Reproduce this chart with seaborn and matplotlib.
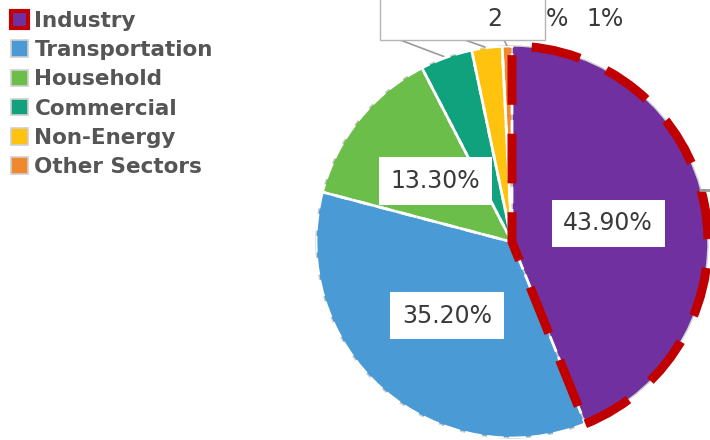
import matplotlib
matplotlib.use("Agg")
import matplotlib.pyplot as plt
from matplotlib.patches import Patch, Rectangle, Wedge
import seaborn as sns
import numpy as np

categories = ["Industry", "Transportation", "Household", "Commercial", "Non-Energy", "Other Sectors"]
values = [43.9, 35.2, 13.3, 4.3, 2.5, 0.8]
pct_labels = ["43.90%", "35.20%", "13.30%", "", "", ""]
colors = ["#7030A0", "#4A9AD6", "#6CBE4A", "#0FA27C", "#FFC20E", "#F0892E"]

sns.set_theme(style="white")
plt.rcParams["font.family"] = ["DejaVu Sans"]
lab_color = "#3a3a3a"

fig = plt.figure(figsize=(7.1, 4.4), dpi=100)
ax = fig.add_axes([316 / 710, 2 / 440, 392 / 710, 392 / 440])
wedges, _ = ax.pie(values, colors=colors, startangle=90, counterclock=False,
                   radius=1.0,
                   wedgeprops=dict(edgecolor="#d0d0d0", linewidth=1.0))
for i, w in enumerate(wedges):
    if i == 0:
        continue
    ax.add_patch(Wedge(w.center, w.r, w.theta1, w.theta2,
                       facecolor="none", edgecolor="white", linewidth=2.0,
                       linestyle=(0, (6, 2)), zorder=3))
w0 = wedges[0]
ax.add_patch(Wedge(w0.center, w0.r, w0.theta1, w0.theta2,
                   facecolor="none", edgecolor="#C00000", linewidth=6.5,
                   linestyle=(0, (5.5, 3.2)), zorder=4, clip_on=False))
ax.set_xlim(-1, 1)
ax.set_ylim(-1, 1)
ax.set_aspect("equal")
ax.axis("off")

total = sum(values)
start = 90.0
for v, lab in zip(values, pct_labels):
    ang = start - v / total * 180.0
    start -= v / total * 360.0
    if not lab:
        continue
    r = 0.5
    ax.text(r * np.cos(np.radians(ang)), r * np.sin(np.radians(ang)), lab,
            ha="center", va="center", fontsize=17, color=lab_color, zorder=6,
            bbox=dict(boxstyle="square,pad=0.5", facecolor="white", edgecolor="none"))

cum = np.cumsum([0] + values)
for i in (3, 4, 5):
    mid = 90 - (cum[i] + values[i] / 2) / total * 360
    x0, y0 = np.cos(np.radians(mid)), np.sin(np.radians(mid))
    ax.plot([x0, x0 - 0.12 * (5 - i) - 0.02], [y0, 1.04], color="#9a9a9a", lw=1.2,
            clip_on=False, zorder=2)

fig.patches.append(Rectangle((380 / 710, 1 - 40 / 440), 165 / 710, 42 / 440,
                             transform=fig.transFigure, facecolor="white",
                             edgecolor="#b5b5b5", linewidth=1, zorder=5))
for s, xp in (("2", 495), ("%", 557), ("1%", 605)):
    fig.text(xp / 710, 1 - 19 / 440, s, ha="center", va="center", fontsize=17,
             color=lab_color, zorder=7)
fig.add_artist(plt.Line2D([700 / 710, 710 / 710], [1 - 190 / 440, 1 - 190 / 440],
                          color="#9a9a9a", lw=2, transform=fig.transFigure))

handles = []
for i, (c, n) in enumerate(zip(colors, categories)):
    if i == 0:
        handles.append(Patch(facecolor=c, edgecolor="#C00000", linewidth=3, label=n))
    else:
        handles.append(Patch(facecolor=c, edgecolor="#d0d0d0", linewidth=1.2, label=n))
leg = fig.legend(handles=handles, loc="upper left", bbox_to_anchor=(0.0, 1.0),
                 frameon=False, handlelength=0.8, handleheight=0.8,
                 handletextpad=0.3, labelspacing=0.43, borderaxespad=0.1,
                 prop=dict(family="DejaVu Sans", weight="bold", size=15.5))
for t in leg.get_texts():
    t.set_color("#555555")

fig.savefig("out.png", dpi=100)
